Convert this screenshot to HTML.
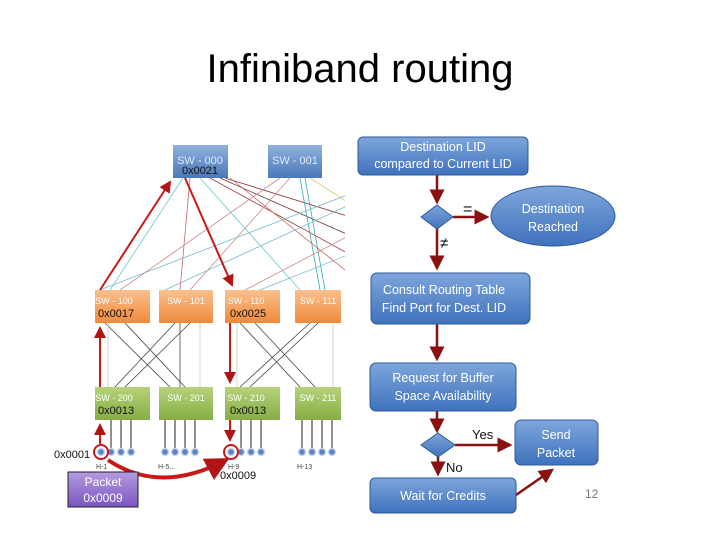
<!DOCTYPE html>
<html><head><style>
body{margin:0;background:#fff;}
svg{display:block;font-family:"Liberation Sans",sans-serif;}
</style></head><body>
<svg width="720" height="540" viewBox="0 0 720 540">
<defs>
<linearGradient id="bl" x1="0" y1="0" x2="0" y2="1"><stop offset="0" stop-color="#7ea6db"/><stop offset="1" stop-color="#3f72bd"/></linearGradient>
<linearGradient id="sw" x1="0" y1="0" x2="0" y2="1"><stop offset="0" stop-color="#8fb2dd"/><stop offset="1" stop-color="#4b78b8"/></linearGradient>
<linearGradient id="or" x1="0" y1="0" x2="0" y2="1"><stop offset="0" stop-color="#fbc08e"/><stop offset="1" stop-color="#f08a3a"/></linearGradient>
<linearGradient id="gr" x1="0" y1="0" x2="0" y2="1"><stop offset="0" stop-color="#b6d37c"/><stop offset="1" stop-color="#86ad43"/></linearGradient>
<linearGradient id="pu" x1="0" y1="0" x2="0" y2="1"><stop offset="0" stop-color="#b49be0"/><stop offset="1" stop-color="#7a55c0"/></linearGradient>
<marker id="ar" markerWidth="6" markerHeight="6" refX="5" refY="3" orient="auto"><path d="M0,0 L6,3 L0,6z" fill="#b01515"/></marker>
<marker id="ad" markerWidth="6" markerHeight="6" refX="5" refY="3" orient="auto"><path d="M0,0 L6,3 L0,6z" fill="#8b1010"/></marker>
<clipPath id="cl"><rect x="0" y="0" width="345" height="540"/></clipPath>
</defs>
<text x="360" y="82" font-size="40" text-anchor="middle" fill="#000" font-family="Liberation Sans, sans-serif">Infiniband routing</text>

<g clip-path="url(#cl)" stroke-width="0.8" fill="none">
<line x1="183" y1="178" x2="110" y2="290" stroke="#6cc"/>
<line x1="190" y1="178" x2="180" y2="290" stroke="#c66"/>
<line x1="200" y1="178" x2="300" y2="290" stroke="#6cc"/>
<line x1="210" y1="178" x2="360" y2="260" stroke="#933"/>
<line x1="220" y1="178" x2="360" y2="240" stroke="#633"/>
<line x1="225" y1="178" x2="360" y2="220" stroke="#833"/>
<line x1="280" y1="178" x2="120" y2="290" stroke="#c88"/>
<line x1="290" y1="178" x2="190" y2="290" stroke="#c88"/>
<line x1="300" y1="178" x2="320" y2="290" stroke="#3aa"/>
<line x1="305" y1="178" x2="325" y2="290" stroke="#3aa"/>
<line x1="310" y1="178" x2="360" y2="210" stroke="#dc6"/>
<line x1="360" y1="190" x2="100" y2="290" stroke="#7bc"/>
<line x1="360" y1="200" x2="165" y2="290" stroke="#7bc"/>
<line x1="360" y1="230" x2="245" y2="290" stroke="#c88"/>
<line x1="360" y1="250" x2="260" y2="290" stroke="#7bc"/>
<line x1="230" y1="178" x2="345" y2="270" stroke="#c66"/>
</g>
<g stroke="#444" stroke-width="0.8">
<line x1="105" y1="323" x2="170" y2="387"/><line x1="125" y1="323" x2="185" y2="387"/>
<line x1="175" y1="323" x2="115" y2="387"/><line x1="190" y1="323" x2="125" y2="387"/>
<line x1="180" y1="323" x2="180" y2="387"/>
<line x1="240" y1="323" x2="300" y2="387"/><line x1="255" y1="323" x2="315" y2="387"/>
<line x1="310" y1="323" x2="240" y2="387"/><line x1="318" y1="323" x2="250" y2="387"/>
</g>
<g stroke="#ccc" stroke-width="0.8"><line x1="108" y1="323" x2="108" y2="387"/><line x1="200" y1="323" x2="200" y2="387"/><line x1="237" y1="323" x2="237" y2="387"/><line x1="333" y1="323" x2="333" y2="387"/></g>

<rect x="173" y="145" width="55" height="33" fill="url(#sw)"/>
<text x="200" y="164" font-size="11" fill="#dde8f8" text-anchor="middle">SW - 000</text>
<text x="200" y="174" font-size="11" fill="#111" text-anchor="middle">0x0021</text>
<rect x="268" y="145" width="54" height="33" fill="url(#sw)"/>
<text x="295" y="164" font-size="11" fill="#dde8f8" text-anchor="middle">SW - 001</text>

<g font-size="9" fill="#fff" text-anchor="middle">
<rect x="95" y="290" width="55" height="33" fill="url(#or)"/><text x="114" y="304">SW - 100</text>
<rect x="159" y="290" width="54" height="33" fill="url(#or)"/><text x="186" y="304">SW - 101</text>
<rect x="225" y="290" width="55" height="33" fill="url(#or)"/><text x="246" y="304">SW - 110</text>
<rect x="295" y="290" width="46" height="33" fill="url(#or)"/><text x="318" y="304">SW - 111</text>
<rect x="95" y="387" width="55" height="33" fill="url(#gr)"/><text x="114" y="401">SW - 200</text>
<rect x="159" y="387" width="54" height="33" fill="url(#gr)"/><text x="186" y="401">SW - 201</text>
<rect x="225" y="387" width="55" height="33" fill="url(#gr)"/><text x="246" y="401">SW - 210</text>
<rect x="295" y="387" width="46" height="33" fill="url(#gr)"/><text x="318" y="401">SW - 211</text>
</g>
<g font-size="11" fill="#111">
<text x="98" y="317">0x0017</text><text x="230" y="317">0x0025</text>
<text x="98" y="414">0x0013</text><text x="230" y="414">0x0013</text>
</g>
<g stroke="#222" stroke-width="1" fill="#6a8fc8">
<line x1="121" y1="420" x2="121" y2="450"/><line x1="131" y1="420" x2="131" y2="450"/><line x1="111" y1="420" x2="111" y2="450"/>
<line x1="165" y1="420" x2="165" y2="450"/><line x1="175" y1="420" x2="175" y2="450"/><line x1="185" y1="420" x2="185" y2="450"/><line x1="195" y1="420" x2="195" y2="450"/>
<line x1="241" y1="420" x2="241" y2="450"/><line x1="251" y1="420" x2="251" y2="450"/><line x1="261" y1="420" x2="261" y2="450"/>
<line x1="302" y1="420" x2="302" y2="450"/><line x1="312" y1="420" x2="312" y2="450"/><line x1="322" y1="420" x2="322" y2="450"/><line x1="332" y1="420" x2="332" y2="450"/>
</g>
<g fill="#5b84c4" stroke="#c8d4ea" stroke-width="1.5">
<circle cx="101" cy="452" r="3.5"/><circle cx="111" cy="452" r="3.5"/><circle cx="121" cy="452" r="3.5"/><circle cx="131" cy="452" r="3.5"/>
<circle cx="165" cy="452" r="3.5"/><circle cx="175" cy="452" r="3.5"/><circle cx="185" cy="452" r="3.5"/><circle cx="195" cy="452" r="3.5"/>
<circle cx="231" cy="452" r="3.5"/><circle cx="241" cy="452" r="3.5"/><circle cx="251" cy="452" r="3.5"/><circle cx="261" cy="452" r="3.5"/>
<circle cx="302" cy="452" r="3.5"/><circle cx="312" cy="452" r="3.5"/><circle cx="322" cy="452" r="3.5"/><circle cx="332" cy="452" r="3.5"/>
</g>
<g fill="none" stroke="#c81818" stroke-width="2">
<circle cx="101" cy="452" r="7"/><circle cx="231" cy="452" r="7"/>
<line x1="100" y1="444" x2="100" y2="425" marker-end="url(#ar)"/>
<line x1="100" y1="387" x2="100" y2="328" marker-end="url(#ar)"/>
<line x1="100" y1="290" x2="170" y2="182" marker-end="url(#ar)"/>
<line x1="185" y1="178" x2="232" y2="285" marker-end="url(#ar)"/>
<line x1="230" y1="323" x2="230" y2="382" marker-end="url(#ar)"/>
<line x1="230" y1="420" x2="230" y2="440" marker-end="url(#ar)"/>
<path d="M108,460 Q160,495 226,460" stroke-width="4" marker-end="url(#ar)"/>
</g>
<g font-size="7" fill="#444"><text x="96" y="469">H-1</text><text x="158" y="469">H-5...</text><text x="228" y="469">H-9</text><text x="297" y="469">H-13</text></g>
<text x="54" y="458" font-size="11" fill="#111">0x0001</text>
<text x="220" y="479" font-size="11" fill="#111">0x0009</text>
<rect x="68" y="472" width="70" height="35" fill="url(#pu)" stroke="#222"/>
<text x="103" y="486" font-size="12" fill="#fff" text-anchor="middle">Packet</text>
<text x="103" y="502" font-size="12" fill="#fff" text-anchor="middle">0x0009</text>

<g stroke="#8b1010" stroke-width="2.5" fill="none">
<line x1="437" y1="175" x2="437" y2="202" marker-end="url(#ad)"/>
<line x1="453" y1="217" x2="487" y2="217" marker-end="url(#ad)"/>
<line x1="437" y1="228" x2="437" y2="268" marker-end="url(#ad)"/>
<line x1="437" y1="324" x2="437" y2="359" marker-end="url(#ad)"/>
<line x1="437" y1="411" x2="437" y2="431" marker-end="url(#ad)"/>
<line x1="455" y1="445" x2="510" y2="445" marker-end="url(#ad)"/>
<line x1="438" y1="456" x2="438" y2="474" marker-end="url(#ad)"/>
<line x1="516" y1="495" x2="552" y2="470" marker-end="url(#ad)"/>
</g>
<g fill="url(#bl)" stroke="#2e5a99" stroke-width="1">
<rect x="358" y="137" width="170" height="38" rx="5"/>
<path d="M437,205 L453,217 L437,229 L421,217z"/>
<ellipse cx="553" cy="216" rx="62" ry="30"/>
<rect x="371" y="273" width="159" height="51" rx="6"/>
<rect x="370" y="363" width="146" height="48" rx="6"/>
<path d="M438,433 L455,445 L438,457 L421,445z"/>
<rect x="515" y="420" width="83" height="45" rx="6"/>
<rect x="370" y="478" width="146" height="35" rx="5"/>
</g>
<g font-size="12.5" fill="#fff" text-anchor="middle">
<text x="443" y="151">Destination LID</text><text x="443" y="168">compared to Current LID</text>
<text x="553" y="213">Destination</text><text x="553" y="231">Reached</text>
<text x="444" y="294">Consult Routing Table</text><text x="444" y="312">Find Port for Dest. LID</text>
<text x="443" y="382">Request for Buffer</text><text x="443" y="400">Space Availability</text>
<text x="556" y="439">Send</text><text x="556" y="457">Packet</text>
<text x="443" y="500">Wait for Credits</text>
</g>
<g font-size="13" fill="#111">
<text x="463" y="214" font-size="16">=</text><text x="440" y="248" font-size="15">≠</text>
<text x="472" y="439">Yes</text><text x="446" y="472">No</text>
</g>
<text x="585" y="498" font-size="12" fill="#777">12</text>
</svg>
</body></html>
